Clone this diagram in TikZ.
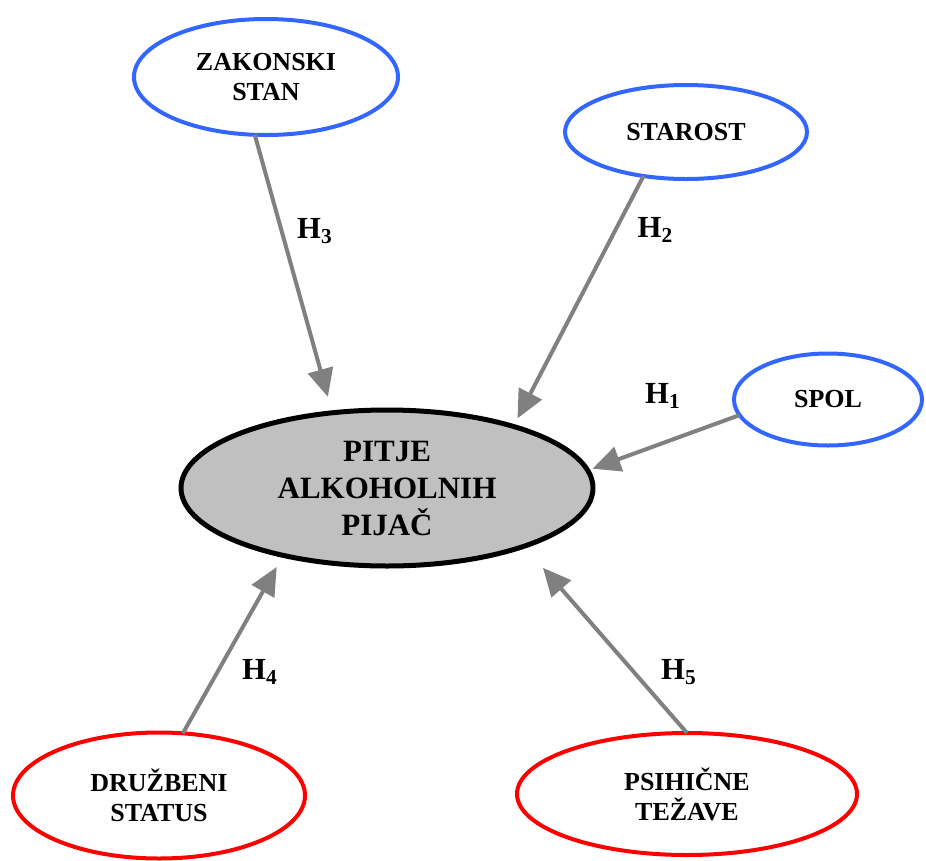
\documentclass[tikz,border=0pt]{standalone}
\usepackage{fontspec}
\setmainfont{Liberation Serif}
\usepackage{tikz}
\definecolor{factorblue}{RGB}{51,102,255}
\definecolor{factorred}{RGB}{255,0,0}
\definecolor{arrowgray}{RGB}{128,128,128}
\definecolor{centregray}{RGB}{192,192,192}
\usetikzlibrary{shapes.geometric,arrows.meta}
\newcommand{\hlab}[1]{H\raisebox{-3.75pt}{\fontsize{16}{16}\selectfont #1}}

\begin{document}
\begin{tikzpicture}[
    x=0.75pt, y=-0.75pt,
    factor/.style={ellipse, draw, line width=3pt, fill=white, inner sep=0pt, outer sep=0pt, align=center, font=\bfseries\fontsize{19.5}{22.5}\selectfont},
    demo/.style={factor, draw=factorblue},
    social/.style={factor, draw=factorred},
    centre/.style={ellipse, draw=black, line width=3.75pt, fill=centregray, inner sep=0pt, outer sep=0pt, minimum width=309pt, minimum height=117pt, align=center, font=\bfseries\fontsize{23.25}{27.75}\selectfont},
    arrow/.style={-{Triangle[length=21pt,width=19pt]}, line width=3pt, draw=arrowgray, fill=arrowgray},
    hyp/.style={font=\bfseries\fontsize{23}{27}\selectfont}
]
\useasboundingbox (0,0) rectangle (926,861);

\node[centre] (pitje) at (387,488) {PITJE\\ALKOHOLNIH\\PIJAČ};

\node[demo, minimum width=198pt, minimum height=87pt] (zakon) at (266,77) {ZAKONSKI\\STAN};
\node[demo, minimum width=181.5pt, minimum height=70.5pt] (starost) at (686,132) {STAROST};
\node[demo, minimum width=141pt, minimum height=69pt] (spol) at (828,399.5) {SPOL};
\node[social, minimum width=219pt, minimum height=94.5pt] (druzbeni) at (159,795.5) {DRUŽBENI\\STATUS};
\node[social, minimum width=255pt, minimum height=91.5pt] (psihicne) at (687,794) {PSIHIČNE\\TEŽAVE};

\node[hyp] (h1) at (662.5,395.5) {\hlab{1}};
\node[hyp] (h2) at (655,230) {\hlab{2}};
\node[hyp] (h3) at (314.5,231) {\hlab{3}};
\node[hyp] (h4) at (259.5,671.5) {\hlab{4}};
\node[hyp] (h5) at (678.5,672.5) {\hlab{5}};

\draw[arrow, shorten >=12.4pt] (zakon.259) -- (pitje.126.7);
\draw[arrow, shorten >=6.8pt] (starost.226) -- (pitje.26);
\draw[arrow, shorten >=3.8pt] (spol.190) -- (pitje.5);
\draw[arrow, shorten >=10pt] (druzbeni.69) -- (pitje.213.5);
\draw[arrow, shorten >=21.5pt] (psihicne.90) -- (pitje.337);

\end{tikzpicture}
\end{document}
